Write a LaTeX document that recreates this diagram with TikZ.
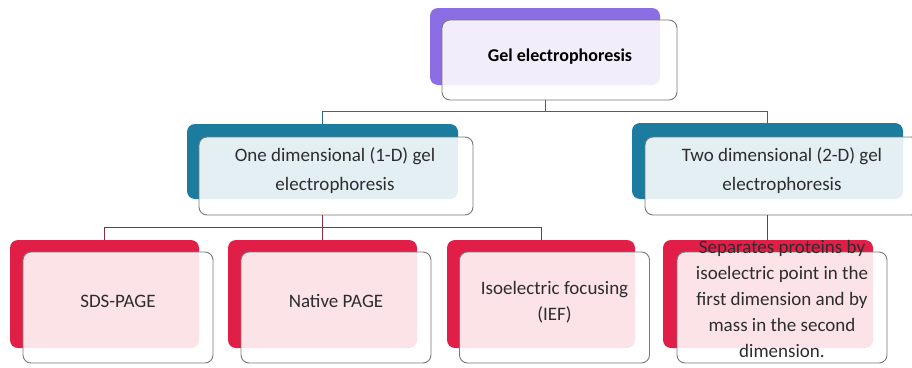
\documentclass[tikz,border=0pt]{standalone}
\usepackage{fontspec}
\setmainfont{Carlito}
\definecolor{purp}{RGB}{140,110,228}
\definecolor{tealb}{RGB}{28,124,160}
\definecolor{redb}{RGB}{225,30,72}
\definecolor{framegray}{RGB}{120,120,120}
\definecolor{txt}{RGB}{45,45,45}
\definecolor{linkteal}{RGB}{40,110,130}
\definecolor{linkred}{RGB}{140,45,65}
\begin{document}
\begin{tikzpicture}[x=1pt,y=-1pt,
  back/.style={rectangle, rounded corners=8pt, inner sep=0pt, draw=none},
  front/.style={rectangle, rounded corners=8pt, inner sep=0pt, draw=framegray, line width=0.9pt, fill=white, fill opacity=0.88},
  lbl/.style={font=\fontsize{19}{26}\selectfont, align=center, text=txt, inner sep=0pt},
  lbltwo/.style={font=\fontsize{19}{29}\selectfont, align=center, text=txt, inner sep=0pt},
  link1/.style={draw=linkteal, line width=1pt},
  link2/.style={draw=linkred, line width=1pt}]
\useasboundingbox (0,0) rectangle (912,367);
\clip (0,0) rectangle (912,367);
\fill[white] (0,0) rectangle (912,367);

% top
\node[back, fill=purp, minimum width=230pt, minimum height=77pt] (gelB) at (545,46.5) {};
\node[front, minimum width=235pt, minimum height=80pt] (gelF) at (559.5,60) {};
\node[lbl, font=\fontsize{18}{20}\selectfont\bfseries, text=black] (gelT) at (560,57) {Gel electrophoresis};

% level 2
\node[back, fill=tealb, minimum width=271pt, minimum height=75pt] (oneB) at (322.5,161.5) {};
\node[front, minimum width=274pt, minimum height=78pt] (oneF) at (336,176) {};
\node[lbltwo] (oneT) at (335,171) {One dimensional (1-D) gel\\electrophoresis};

\node[back, fill=tealb, minimum width=271pt, minimum height=76pt] (twoB) at (767.5,161) {};
\node[front, minimum width=274pt, minimum height=78pt] (twoF) at (782,176) {};
\node[lbltwo] (twoT) at (782,171) {Two dimensional (2-D) gel\\electrophoresis};

% level 3
\node[back, fill=redb, minimum width=189pt, minimum height=108pt] (sdsB) at (104.5,294) {};
\node[front, minimum width=190pt, minimum height=111pt] (sdsF) at (118,307.5) {};
\node[lbl] (sdsT) at (118,301) {SDS-PAGE};

\node[back, fill=redb, minimum width=189pt, minimum height=108pt] (natB) at (322.5,294) {};
\node[front, minimum width=190pt, minimum height=111pt] (natF) at (336,307.5) {};
\node[lbl] (natT) at (336,301) {Native PAGE};

\node[back, fill=redb, minimum width=188pt, minimum height=108pt] (iefB) at (541,294) {};
\node[front, minimum width=190pt, minimum height=111pt] (iefF) at (554.5,307.5) {};
\node[lbl] (iefT) at (554.5,302) {Isoelectric focusing\\(IEF)};

\node[back, fill=redb, minimum width=210pt, minimum height=108pt] (sepB) at (768,294) {};
\node[front, minimum width=210pt, minimum height=111pt] (sepF) at (782,307.5) {};
\node[lbl] (sepT) at (782,299) {Separates proteins by\\isoelectric point in the\\first dimension and by\\mass in the second\\dimension.};

% connectors
\draw[link1] (gelB.center |- gelF.south) -- ++(0,11) coordinate (j1) -| (oneB.north);
\draw[link1] (j1) -| (twoB.north);
\draw[link2] (oneB.center |- oneF.south) -- ++(0,12) coordinate (j2) -| (sdsB.north);
\draw[link2] (j2) -| (natB.north);
\draw[link2] (j2) -| (iefB.north);
\draw[link2] (twoB.center |- twoF.south) -- (twoB.center |- sepB.north);
\end{tikzpicture}
\end{document}
